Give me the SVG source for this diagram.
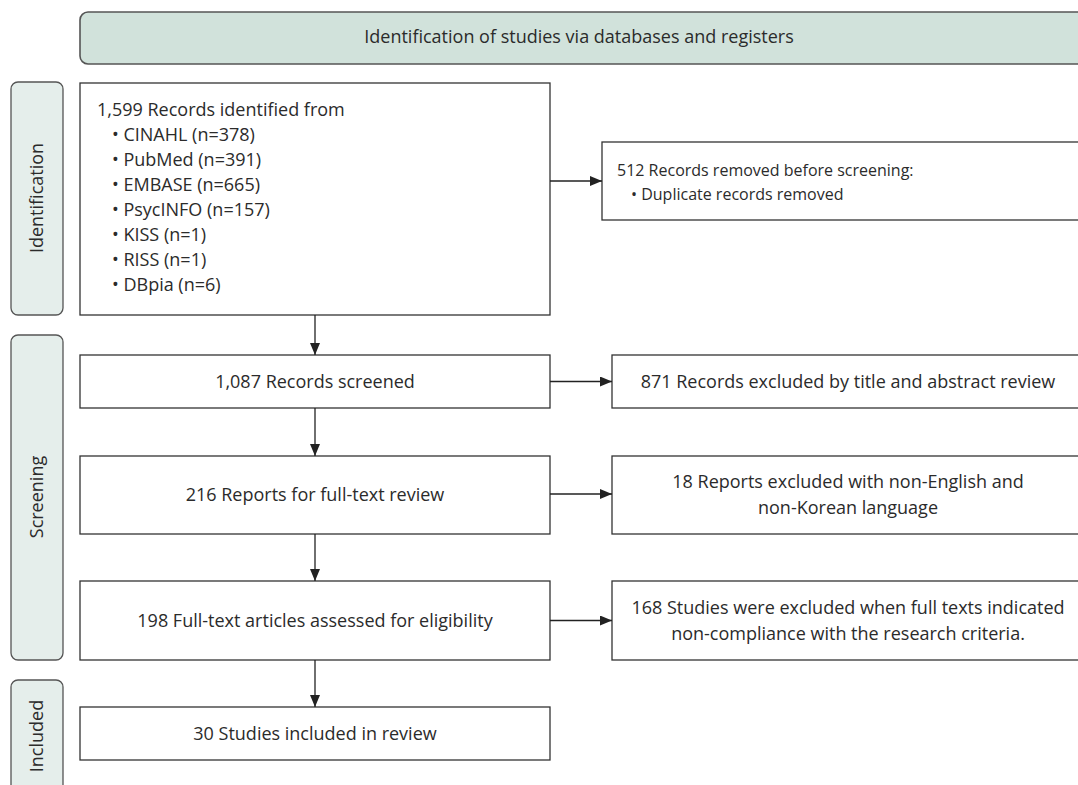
<svg xmlns="http://www.w3.org/2000/svg" width="1078" height="785" viewBox="0 0 1078 785">
  <style>
    .box { fill: #ffffff; stroke: #333333; stroke-width: 1.3; }
    .phase { fill: #e5eeeb; stroke: #555555; stroke-width: 1.3; }
    .banner { fill: #d1e2db; stroke: #555555; stroke-width: 1.6; }
    text { font-family: "Open Sans", "Liberation Sans", sans-serif; font-size: 18px; fill: #2b2b2b; }
    .c { text-anchor: middle; }
    .sm { font-size: 16px; }
    .conn { stroke: #222222; stroke-width: 1.3; fill: none; marker-end: url(#arrow); }
  </style>
  <defs>
    <marker id="arrow" markerUnits="userSpaceOnUse" markerWidth="12" markerHeight="10" refX="12" refY="5" orient="auto">
      <path d="M0,0 L12,5 L0,10 Z" fill="#222222"/>
    </marker>
  </defs>
  <rect width="1078" height="785" fill="#ffffff"/>

  <!-- header banner -->
  <g id="banner">
    <rect class="banner" x="80" y="12" width="1012" height="52" rx="8"/>
    <text class="c" x="579" y="43">Identification of studies via databases and registers</text>
  </g>

  <!-- phase labels -->
  <g id="phase-identification">
    <rect class="phase" x="11" y="82" width="52" height="233" rx="7"/>
    <text class="c" x="43" y="198" transform="rotate(-90 43 198)">Identification</text>
  </g>
  <g id="phase-screening">
    <rect class="phase" x="11" y="335" width="52" height="325" rx="7"/>
    <text class="c" x="43" y="497" transform="rotate(-90 43 497)">Screening</text>
  </g>
  <g id="phase-included">
    <rect class="phase" x="11" y="680" width="52" height="120" rx="7"/>
    <text class="c" x="43" y="736" transform="rotate(-90 43 736)">Included</text>
  </g>

  <!-- main flow -->
  <g id="records-identified">
    <rect class="box" x="80" y="83" width="470" height="232"/>
    <text x="97" y="116">1,599 Records identified from</text>
    <text x="112" y="141">• CINAHL (n=378)</text>
    <text x="112" y="166">• PubMed (n=391)</text>
    <text x="112" y="191">• EMBASE (n=665)</text>
    <text x="112" y="216">• PsycINFO (n=157)</text>
    <text x="112" y="241">• KISS (n=1)</text>
    <text x="112" y="266">• RISS (n=1)</text>
    <text x="112" y="291">• DBpia (n=6)</text>
  </g>
  <g id="records-screened">
    <rect class="box" x="80" y="355" width="470" height="53"/>
    <text class="c" x="315" y="388">1,087 Records screened</text>
  </g>
  <g id="reports-fulltext">
    <rect class="box" x="80" y="456" width="470" height="78"/>
    <text class="c" x="315" y="501">216 Reports for full-text review</text>
  </g>
  <g id="eligibility">
    <rect class="box" x="80" y="581" width="470" height="79"/>
    <text class="c" x="315" y="627">198 Full-text articles assessed for eligibility</text>
  </g>
  <g id="included">
    <rect class="box" x="80" y="707" width="470" height="53"/>
    <text class="c" x="315" y="740">30 Studies included in review</text>
  </g>

  <!-- exclusions -->
  <g id="removed-duplicates">
    <rect class="box" x="602" y="142" width="490" height="78"/>
    <text class="sm" x="617" y="176">512 Records removed before screening:</text>
    <text class="sm" x="631" y="200">• Duplicate records removed</text>
  </g>
  <g id="excluded-title-abstract">
    <rect class="box" x="612" y="355" width="480" height="53"/>
    <text class="c" x="848" y="388">871 Records excluded by title and abstract review</text>
  </g>
  <g id="excluded-language">
    <rect class="box" x="612" y="456" width="480" height="78"/>
    <text class="c" x="848" y="488">18 Reports excluded with non-English and</text>
    <text class="c" x="848" y="514">non-Korean language</text>
  </g>
  <g id="excluded-criteria">
    <rect class="box" x="612" y="581" width="480" height="79"/>
    <text class="c" x="848" y="614">168 Studies were excluded when full texts indicated</text>
    <text class="c" x="848" y="640">non-compliance with the research criteria.</text>
  </g>

  <!-- connectors -->
  <g id="connectors">
    <line class="conn" x1="315" y1="315" x2="315" y2="355"/>
    <line class="conn" x1="315" y1="408" x2="315" y2="456"/>
    <line class="conn" x1="315" y1="534" x2="315" y2="581"/>
    <line class="conn" x1="315" y1="660" x2="315" y2="707"/>
    <line class="conn" x1="550" y1="181" x2="602" y2="181"/>
    <line class="conn" x1="550" y1="381.5" x2="612" y2="381.5"/>
    <line class="conn" x1="550" y1="494" x2="612" y2="494"/>
    <line class="conn" x1="550" y1="620.5" x2="612" y2="620.5"/>
  </g>
</svg>
